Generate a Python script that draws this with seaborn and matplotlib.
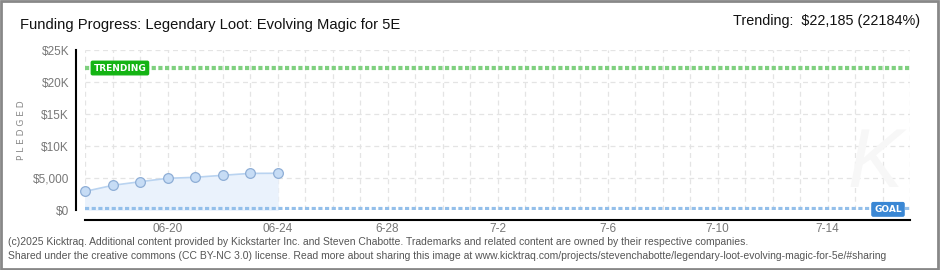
import matplotlib
matplotlib.use("Agg")
import matplotlib.pyplot as plt
import seaborn as sns
import pandas as pd
import numpy as np
from matplotlib.patches import Rectangle

# ---- data ----
days = [0, 1, 2, 3, 4, 5, 6, 7]            # 06-17 .. 06-24
pledged = [2900, 3850, 4420, 4950, 5110, 5420, 5720, 5740]
tick_days = [3, 7, 11, 15, 19, 23, 27]
tick_labels = ["06-20", "06-24", "6-28", "7-2", "7-6", "7-10", "7-14"]
y_ticks = [0, 5000, 10000, 15000, 20000, 25000]
y_labels = ["$0", "$5,000", "$10K", "$15K", "$20K", "$25K"]
trending = 22185
goal = 100
title = "Funding Progress: Legendary Loot: Evolving Magic for 5E"
trend_text = "Trending:  $22,185 (22184%)"
footer1 = ("(c)2025 Kicktraq. Additional content provided by Kickstarter Inc. and Steven Chabotte. "
           "Trademarks and related content are owned by their respective companies.")
footer2 = ("Shared under the creative commons (CC BY-NC 3.0) license. Read more about sharing this image at "
           "www.kicktraq.com/projects/stevenchabotte/legendary-loot-evolving-magic-for-5e/#sharing")

df = pd.DataFrame({"day": days, "pledged": pledged})

sns.set_style("white")
plt.rcParams["font.family"] = ["Liberation Sans", "DejaVu Sans"]

fig = plt.figure(figsize=(9.4, 2.7), dpi=100)
W, H = 940, 270
ax = fig.add_axes([85 / W, (H - 210) / H, (910 - 85) / W, 160 / H])

# grid
ax.set_xticks(np.arange(0, 31, 1))
ax.set_yticks(y_ticks)
ax.grid(True, color="#e4e4e4", linestyle=(0, (4, 3)), linewidth=0.9)
ax.set_axisbelow(True)

# area + line + markers
ax.fill_between(df["day"], df["pledged"], 0, color="#eaf2fc", zorder=1)
sns.lineplot(data=df, x="day", y="pledged", ax=ax, color="#b9d3f0", linewidth=1.2,
             marker="o", markersize=7, markerfacecolor="#c6dcf5",
             markeredgecolor="#8eaed6", markeredgewidth=0.9, zorder=3, clip_on=False)

# trending & goal lines
ax.axhline(trending, color="#7fd07f", linewidth=3, linestyle=(0, (1.0, 0.6)), zorder=2)
ax.axhline(goal, color="#93bfea", linewidth=3, linestyle=(0, (1.0, 0.6)), zorder=2)

ax.text(1.27, trending, "TRENDING", color="white", fontsize=6.5, fontweight="bold",
        family="DejaVu Sans", ha="center", va="center", zorder=5,
        bbox=dict(boxstyle="round,pad=0.25,rounding_size=0.15", fc="#14b414", ec="#14b414"))
ax.text(29.2, goal, "GOAL", color="white", fontsize=6.5, fontweight="bold",
        family="DejaVu Sans", ha="center", va="center", zorder=5,
        bbox=dict(boxstyle="round,pad=0.25,rounding_size=0.15", fc="#3a87d4", ec="#3a87d4"))

ax.set_xlim(0, 30)
ax.set_ylim(0, 25000)

# ticks
ax.set_xticks(np.arange(0, 31, 1))
ax.set_xticklabels([tick_labels[tick_days.index(d)] if d in tick_days else "" for d in range(31)])
ax.set_yticks(y_ticks)
ax.set_yticklabels(y_labels)
ax.set_yticks(np.arange(2500, 25000, 5000), minor=True)
ax.tick_params(axis="y", which="major", length=3, width=1.2, color="black",
               labelsize=8.5, labelcolor="#777777", pad=2, direction="out")
ax.tick_params(axis="y", which="minor", length=3, width=1.2, color="#e00000", direction="out")
ax.tick_params(axis="x", which="major", length=4, width=1.2, color="black",
               labelsize=8.5, labelcolor="#777777", pad=0, direction="inout")
for lab in ax.get_xticklabels() + ax.get_yticklabels():
    lab.set_family(["DejaVu Sans"])

for s in ["top", "right"]:
    ax.spines[s].set_visible(False)
ax.spines["left"].set_color("black")
ax.spines["left"].set_linewidth(1.5)
ax.spines["left"].set_position(("outward", 6.5))
ax.spines["bottom"].set_color("black")
ax.spines["bottom"].set_linewidth(1.5)
ax.spines["bottom"].set_position(("outward", 7.2))

ax.set_xlabel("")
ax.set_ylabel("")
fig.text(22 / W, 1 - 130 / H, "P L E D G E D", rotation=90, color="#888888", fontsize=6.5,
         family="DejaVu Sans", ha="center", va="center")

# watermark
fig.text(875 / W, 1 - 165 / H, "K", fontsize=60, color="#f7f7f7", ha="center", va="center",
         style="italic", zorder=0)

# header texts
fig.text(20 / W, 1 - 25 / H, title, fontsize=10.6, color="#111111", ha="left", va="center")
fig.text(920 / W, 1 - 21 / H, trend_text, fontsize=10.4, color="#111111", ha="right", va="center")

# footer
fig.text(8 / W, 1 - 242 / H, footer1, fontsize=7.5, color="#555555", ha="left", va="center")
fig.text(8 / W, 1 - 256 / H, footer2, fontsize=7.5, color="#555555", ha="left", va="center")

# border
fig.patches.append(Rectangle((0.001, 0.002), 0.997, 0.995, transform=fig.transFigure,
                             fill=False, edgecolor="#888888", linewidth=2))

fig.savefig("out.png", dpi=100)
